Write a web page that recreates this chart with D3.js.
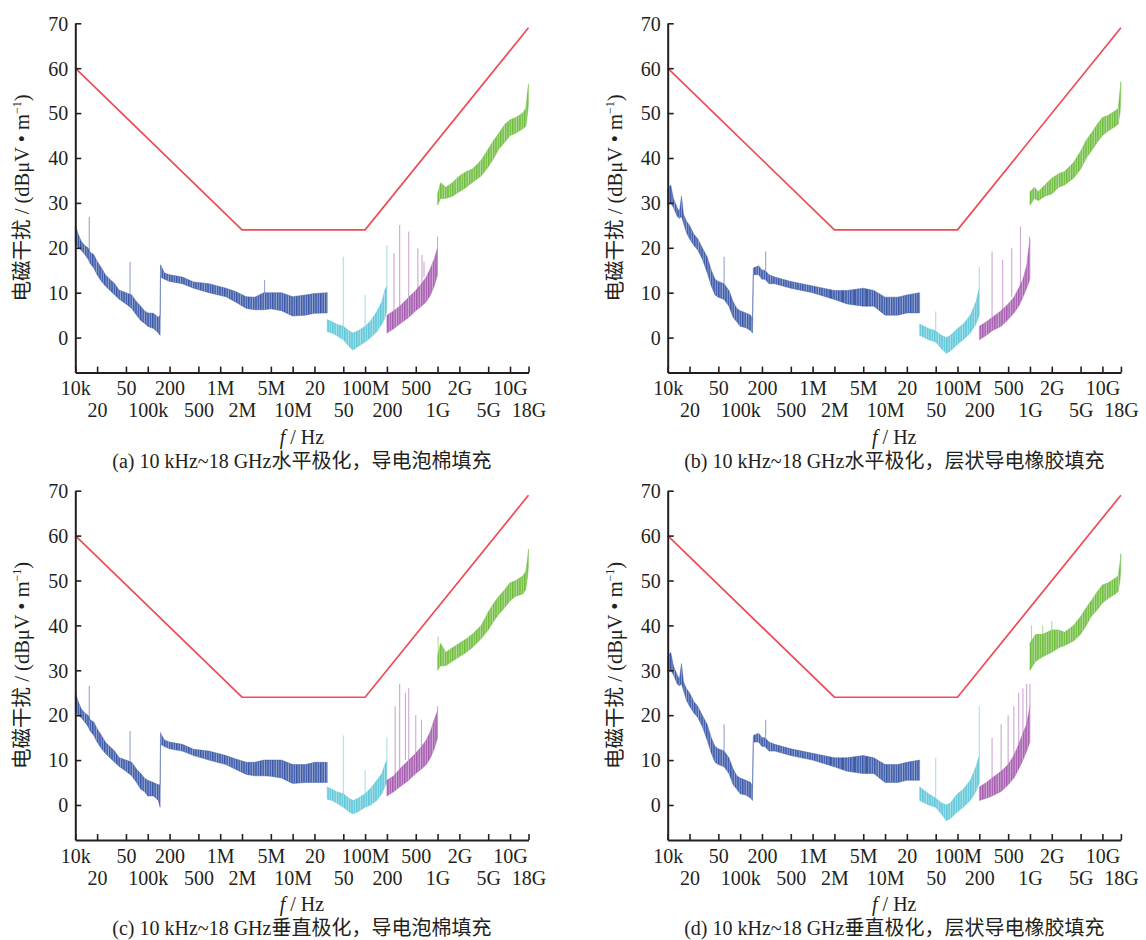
<!DOCTYPE html>
<html>
<head>
<meta charset="utf-8">
<script src="https://cdn.jsdelivr.net/npm/d3@7"></script>
<style>
  body { margin: 0; background: #fff; }
  svg { display: block; }
  text { font-family: "Liberation Serif", "Times New Roman", "Noto Sans CJK SC", serif; fill: #231f20; }
</style>
</head>
<body>
<svg id="chart" width="1146" height="940"></svg>
<script>
"use strict";

// x axis ticks (log frequency, Hz)
const tickFreqs = [1e4, 2e4, 5e4, 1e5, 2e5, 5e5, 1e6, 2e6, 5e6, 1e7, 2e7, 5e7, 1e8, 2e8, 5e8, 1e9, 2e9, 5e9, 1e10, 1.8e10];
const tickLabels = ["10k", "20", "50", "100k", "200", "500", "1M", "2M", "5M", "10M", "20", "50", "100M", "200", "500", "1G", "2G", "5G", "10G", "18G"];
const yTicks = [0, 10, 20, 30, 40, 50, 60, 70];

// limit line (dBuV/m)
const limitFreq = [1e4, 2e6, 1e8, 1.8e10];
const limitLevel = [60, 24, 24, 69];

const captions = [
    "(a) 10 kHz~18 GHz水平极化，导电泡棉填充",
    "(b) 10 kHz~18 GHz水平极化，层状导电橡胶填充",
    "(c) 10 kHz~18 GHz垂直极化，导电泡棉填充",
    "(d) 10 kHz~18 GHz垂直极化，层状导电橡胶填充"
];

// measured spectra: [freq, low, high] envelope readings per band
const aBlue = [
    [1.0e4, 21, 25], [1.1e4, 20, 23], [1.2e4, 19.5, 21.5], [1.35e4, 18.5, 20.5], [1.5e4, 17.5, 20],
    [1.6e4, 16.5, 19], [1.8e4, 15.5, 18.5], [2.0e4, 14, 17], [2.3e4, 12.5, 15.5], [2.6e4, 11.5, 14],
    [3.0e4, 10.5, 13], [3.5e4, 9.5, 12], [4.0e4, 8.6, 10.6], [5.0e4, 7.5, 10], [6.0e4, 6.5, 9.5],
    [7.0e4, 5, 8], [8.0e4, 3.8, 7], [9.0e4, 3.2, 6], [1.0e5, 2.5, 5.5], [1.2e5, 2, 5.4],
    [1.4e5, 1, 4.5], [1.48e5, 0.5, 5], [1.5e5, 13.5, 16.2], [1.7e5, 13, 14.4], [2.0e5, 12.5, 14],
    [3.0e5, 12, 13.5], [4.3e5, 11, 12.4], [7.0e5, 10, 12], [1.2e6, 9.1, 11], [1.6e6, 8, 10.3],
    [2.3e6, 6.5, 9.1], [3.0e6, 6.2, 9], [4.0e6, 6.2, 10], [5.0e6, 6.4, 10], [7.0e6, 6, 10],
    [1.0e7, 4.8, 9.1], [1.5e7, 5, 9.5], [2.0e7, 5.4, 9.8], [3.0e7, 5.5, 10]
];
const aCyan = [
    [3.0e7, 1.3, 4], [3.5e7, 1, 3.5], [4.0e7, 0.5, 3], [5.0e7, -0.5, 2.5], [6.0e7, -2, 1.5],
    [6.8e7, -2.8, 1], [8.0e7, -2, 1.5], [1.0e8, -1, 2.5], [1.2e8, 0, 3.8], [1.45e8, 1.3, 5.8],
    [1.7e8, 3, 8], [1.87e8, 4.3, 10.6], [2.0e8, 6, 11.5]
];
const aPurple = [
    [2.0e8, 1, 5], [2.5e8, 2, 6], [3.0e8, 3, 7], [4.0e8, 4.5, 9], [5.0e8, 6, 10.5],
    [6.0e8, 7, 12], [7.0e8, 8, 13.5], [8.0e8, 9.5, 15.5], [9.0e8, 11.5, 17.5], [1.0e9, 14, 20]
];
const aGreen = [
    [1.0e9, 29.5, 32], [1.1e9, 31, 34.5], [1.3e9, 31, 33.5], [1.6e9, 31.5, 34.5], [2.0e9, 32.5, 36],
    [2.5e9, 33.5, 37], [3.0e9, 34.5, 37.5], [4.0e9, 36, 39.5], [5.0e9, 38, 42], [6.0e9, 40, 44],
    [7.0e9, 42, 45.5], [8.5e9, 43.5, 47.5], [1.0e10, 45, 48.5], [1.2e10, 45.5, 49], [1.5e10, 46.5, 50],
    [1.65e10, 47, 51], [1.75e10, 50, 55], [1.8e10, 52, 56.5]
];
// spikes: [band, freq, peak]
const aSpikes = [
    ["blue", 1.56e4, 26.9], ["blue", 5.7e4, 16.9], ["blue", 1.5e5, 16.2], ["blue", 4.1e6, 12.8],
    ["cyan", 5.0e7, 18], ["cyan", 1.0e8, 9.5], ["cyan", 2.0e8, 20.6],
    ["purple", 2.5e8, 18.8], ["purple", 3.0e8, 25.1], ["purple", 4.0e8, 23.6], ["purple", 5.35e8, 19.9],
    ["purple", 6.1e8, 18.4], ["purple", 6.5e8, 16.9], ["purple", 1.0e9, 22.5]
];

const bBlue = [
    [1.0e4, 29.5, 33], [1.1e4, 30, 34], [1.2e4, 29, 31], [1.35e4, 27, 29], [1.45e4, 26.5, 28],
    [1.55e4, 27, 31.5], [1.65e4, 25.5, 27.5], [1.8e4, 23.5, 26], [2.0e4, 22, 25], [2.3e4, 20.5, 23],
    [2.6e4, 19.5, 22], [3.0e4, 17.5, 20], [3.5e4, 14.5, 18], [4.0e4, 11.5, 15], [4.5e4, 9.5, 13],
    [5.0e4, 9, 12.5], [6.0e4, 8.5, 12], [7.0e4, 7, 10.5], [8.0e4, 4.5, 8], [9.0e4, 3.5, 6.5],
    [1.0e5, 2.5, 6], [1.2e5, 2.2, 5.5], [1.4e5, 1.5, 5], [1.48e5, 1, 4], [1.52e5, 14, 15.5],
    [1.8e5, 14, 16], [2.0e5, 13, 15], [2.2e5, 13, 15], [2.5e5, 12, 14], [3.0e5, 12, 13.5],
    [5.0e5, 11, 12.5], [1.0e6, 10, 11.5], [2.0e6, 8.5, 10.5], [3.0e6, 7.5, 10.5], [5.0e6, 7, 11],
    [7.0e6, 7, 10.5], [1.0e7, 5, 9], [1.5e7, 5, 9], [2.0e7, 5.5, 9.5], [3.0e7, 5.5, 10]
];
const bCyan = [
    [3.0e7, 0.5, 3], [4.0e7, -0.5, 2], [5.0e7, -1, 1.5], [6.0e7, -2.5, 0.5], [7.0e7, -3.5, 0],
    [8.0e7, -3, 0.5], [1.0e8, -1.5, 2], [1.2e8, -0.5, 3], [1.5e8, 1, 5], [1.8e8, 3, 8], [2.0e8, 5, 11]
];
const bPurple = [
    [2.0e8, -0.5, 2.5], [2.5e8, 0.5, 3.5], [3.0e8, 1.5, 4.5], [4.0e8, 2.5, 6], [5.0e8, 4, 7.5],
    [6.0e8, 5.5, 9], [7.0e8, 7, 11], [8.0e8, 9, 13], [9.0e8, 11, 16], [1.0e9, 13, 22]
];
const bGreen = [
    [1.0e9, 29.5, 32.5], [1.15e9, 31, 33.5], [1.3e9, 30.5, 32.5], [1.6e9, 31.5, 34], [2.0e9, 32, 35.5],
    [2.5e9, 33.5, 36.5], [3.0e9, 34, 37], [4.0e9, 35.5, 39], [5.0e9, 37.5, 41.5], [6.0e9, 40, 44],
    [7.0e9, 41.5, 45.5], [8.5e9, 43.5, 47.5], [1.0e10, 45, 49], [1.2e10, 46, 49.5], [1.5e10, 47, 50.5],
    [1.65e10, 47.5, 51], [1.75e10, 50, 55], [1.8e10, 53, 57]
];
const bSpikes = [
    ["blue", 6.0e4, 18], ["blue", 2.25e5, 19.2],
    ["cyan", 5.0e7, 5.8], ["cyan", 2.0e8, 15.8],
    ["purple", 3.0e8, 19.2], ["purple", 4.2e8, 17.3], ["purple", 5.6e8, 19.9], ["purple", 7.4e8, 24.7],
    ["purple", 9.8e8, 22.5]
];

const cBlue = [
    [1.0e4, 21, 25], [1.1e4, 20, 23], [1.2e4, 19.5, 21.5], [1.35e4, 18.5, 20.5], [1.5e4, 17.5, 20],
    [1.6e4, 16.5, 19], [1.8e4, 15.5, 18.5], [2.0e4, 14, 17], [2.3e4, 12.5, 15.5], [2.6e4, 11.5, 14],
    [3.0e4, 10.5, 13], [3.5e4, 9.5, 12], [4.0e4, 8.6, 10.6], [5.0e4, 7.5, 10], [6.0e4, 6.5, 9.5],
    [7.0e4, 5, 8], [8.0e4, 3.5, 7], [9.0e4, 3, 6], [1.0e5, 2, 5.5], [1.2e5, 2, 5],
    [1.4e5, 1, 4.5], [1.48e5, -0.5, 4.5], [1.5e5, 13.5, 16], [1.7e5, 13, 14.5], [2.0e5, 12.5, 14],
    [3.0e5, 12, 13.5], [4.3e5, 11, 12.4], [7.0e5, 10, 12], [1.2e6, 9, 11], [1.6e6, 8, 10.3],
    [2.3e6, 6.8, 9.5], [3.0e6, 6.5, 9.5], [4.0e6, 6.5, 10], [5.0e6, 6.4, 10], [7.0e6, 6, 10],
    [1.0e7, 4.8, 9], [1.5e7, 5, 9], [2.0e7, 5, 9.5], [3.0e7, 5, 9.5]
];
const cCyan = [
    [3.0e7, 1.3, 4], [3.5e7, 1, 3.5], [4.0e7, 0.5, 3], [5.0e7, -0.5, 2.5], [6.0e7, -1.5, 1.5],
    [6.8e7, -2, 1], [8.0e7, -1.5, 1.5], [1.0e8, -0.5, 2.5], [1.2e8, 0, 3.8], [1.45e8, 1, 5.5],
    [1.7e8, 2.5, 7], [1.87e8, 4, 9], [2.0e8, 5, 10]
];
const cPurple = [
    [2.0e8, 2, 5.5], [2.5e8, 3, 6.5], [3.0e8, 4, 8], [4.0e8, 5.5, 10], [5.0e8, 7, 11.5],
    [6.0e8, 8, 13], [7.0e8, 9, 14.5], [8.0e8, 10.5, 16.5], [9.0e8, 12.5, 19], [1.0e9, 15, 21]
];
const cGreen = [
    [1.0e9, 30, 33], [1.1e9, 31, 36], [1.3e9, 31, 34], [1.6e9, 32, 35], [2.0e9, 33, 36],
    [2.5e9, 34, 37], [3.0e9, 35, 38], [4.0e9, 37, 40], [5.0e9, 39, 43], [6.0e9, 41, 45],
    [7.0e9, 42.5, 46.5], [8.5e9, 44, 48], [1.0e10, 45.5, 49.5], [1.2e10, 46.5, 50], [1.5e10, 47, 51],
    [1.65e10, 48, 52], [1.75e10, 51, 55], [1.8e10, 53, 57]
];
const cSpikes = [
    ["blue", 1.56e4, 26.5], ["blue", 5.7e4, 16.5], ["blue", 1.5e5, 16.2],
    ["cyan", 5.0e7, 15.5], ["cyan", 1.0e8, 7.8], ["cyan", 2.0e8, 15],
    ["purple", 2.6e8, 22], ["purple", 3.0e8, 27], ["purple", 3.6e8, 25], ["purple", 4.0e8, 26],
    ["purple", 5.0e8, 20], ["purple", 6.0e8, 19], ["purple", 1.0e9, 22], ["green", 1.02e9, 37.5]
];

const dBlue = [
    [1.0e4, 29.5, 33], [1.1e4, 30, 34], [1.2e4, 29, 31], [1.35e4, 27, 29], [1.45e4, 26.5, 28],
    [1.55e4, 27, 31.5], [1.65e4, 25.5, 27.5], [1.8e4, 23.5, 26], [2.0e4, 22, 25], [2.3e4, 20.5, 23],
    [2.6e4, 19.5, 22], [3.0e4, 17.5, 20], [3.5e4, 14.5, 18], [4.0e4, 11.5, 15], [4.5e4, 9.5, 13],
    [5.0e4, 9, 12.5], [6.0e4, 8.5, 12], [7.0e4, 7, 10.5], [8.0e4, 4.5, 8], [9.0e4, 3.5, 6.5],
    [1.0e5, 2.5, 6], [1.2e5, 2.2, 5.5], [1.4e5, 1.5, 5], [1.48e5, 1, 4], [1.52e5, 14, 15.5],
    [1.8e5, 14, 16], [2.0e5, 13, 15], [2.2e5, 13, 15], [2.5e5, 12, 14], [3.0e5, 12, 13.5],
    [5.0e5, 11, 12.5], [1.0e6, 10, 11.5], [2.0e6, 8.5, 10.5], [3.0e6, 7.5, 10.5], [5.0e6, 7, 11],
    [7.0e6, 7, 10.5], [1.0e7, 5, 9], [1.5e7, 5, 9], [2.0e7, 5.5, 9.5], [3.0e7, 5.5, 10]
];
const dCyan = [
    [3.0e7, 1, 4], [4.0e7, 0, 2.5], [5.0e7, -0.5, 1.5], [6.0e7, -2, 0.5], [7.0e7, -3.5, 0],
    [8.0e7, -3, 0.5], [1.0e8, -1.5, 2.5], [1.2e8, -0.5, 3.5], [1.5e8, 1, 5.5], [1.8e8, 3, 8.5], [2.0e8, 5, 11]
];
const dPurple = [
    [2.0e8, 1, 4], [2.5e8, 1.5, 5], [3.0e8, 2, 6], [4.0e8, 3, 7.5], [5.0e8, 4.5, 9],
    [6.0e8, 6, 11], [7.0e8, 8, 13.5], [8.0e8, 10, 16], [9.0e8, 12, 18], [1.0e9, 14, 22]
];
const dGreen = [
    [1.0e9, 30, 36], [1.2e9, 32, 38], [1.5e9, 33, 38], [2.0e9, 34, 39], [2.5e9, 35, 39],
    [3.0e9, 35.5, 38.5], [4.0e9, 36.5, 40], [5.0e9, 38, 42], [6.0e9, 40, 44], [7.0e9, 42, 45.5],
    [8.5e9, 43.5, 47.5], [1.0e10, 45, 49], [1.2e10, 46, 49.5], [1.5e10, 47, 50.5], [1.65e10, 47.5, 51],
    [1.75e10, 50, 54], [1.8e10, 52, 56]
];
const dSpikes = [
    ["blue", 6.0e4, 18], ["blue", 2.25e5, 19],
    ["cyan", 5.0e7, 10.5], ["cyan", 2.0e8, 22],
    ["purple", 3.0e8, 15], ["purple", 4.0e8, 18], ["purple", 5.0e8, 20], ["purple", 6.0e8, 22],
    ["purple", 7.0e8, 25], ["purple", 8.0e8, 26], ["purple", 9.0e8, 27], ["purple", 1.0e9, 27],
    ["green", 1.05e9, 40], ["green", 1.5e9, 40], ["green", 2.0e9, 41]
];

const bandColor = { blue: "#3b59a8", cyan: "#5fc7d8", purple: "#a65cae", green: "#6fbd3f" };

const panels = [
    { x: 75.3, y: 23.3, bands: { blue: aBlue, cyan: aCyan, purple: aPurple, green: aGreen }, spikes: aSpikes, cap: captions[0] },
    { x: 667.7, y: 23.3, bands: { blue: bBlue, cyan: bCyan, purple: bPurple, green: bGreen }, spikes: bSpikes, cap: captions[1] },
    { x: 75.3, y: 490.7, bands: { blue: cBlue, cyan: cCyan, purple: cPurple, green: cGreen }, spikes: cSpikes, cap: captions[2] },
    { x: 667.7, y: 490.7, bands: { blue: dBlue, cyan: dCyan, purple: dPurple, green: dGreen }, spikes: dSpikes, cap: captions[3] }
];

const width = 453.2, height = 349.3;
const x = d3.scaleLog().domain([1e4, 1.8e10]).range([0, width]);
const y = d3.scaleLinear().domain([-7.8, 70]).range([height, 0]);

const svg = d3.select("#chart");

// hatch pattern per band colour, like the dense sweep lines of the receiver plot
const defs = svg.append("defs");
Object.keys(bandColor).forEach(k => {
    const pat = defs.append("pattern")
        .attr("id", "hatch-" + k)
        .attr("patternUnits", "userSpaceOnUse")
        .attr("width", 2.4)
        .attr("height", 8);
    pat.append("rect").attr("width", 2.4).attr("height", 8)
        .attr("fill", bandColor[k]).attr("fill-opacity", 0.55);
    pat.append("rect").attr("width", 1.4).attr("height", 8)
        .attr("fill", bandColor[k]);
});

panels.forEach(p => {
    const g = svg.append("g").attr("transform", `translate(${p.x},${p.y})`);

    // bands
    Object.keys(p.bands).forEach(k => {
        const rows = p.bands[k];
        g.append("path")
            .datum(rows)
            .attr("fill", `url(#hatch-${k})`)
            .attr("stroke", bandColor[k])
            .attr("stroke-width", 1)
            .attr("stroke-opacity", 0.45)
            .attr("d", d3.area()
                .x(d => x(d[0]))
                .y0(d => y(d[1]))
                .y1(d => y(d[2])));
    });

    // spikes from band top up to peak
    g.selectAll("line.spike").data(p.spikes)
        .enter()
        .append("line")
        .attr("class", "spike")
        .attr("x1", d => x(d[1]))
        .attr("x2", d => x(d[1]))
        .attr("y1", d => {
            const rows = p.bands[d[0]];
            const near = rows.reduce((a, b) => Math.abs(Math.log(b[0] / d[1])) < Math.abs(Math.log(a[0] / d[1])) ? b : a);
            return y(near[2]);
        })
        .attr("y2", d => y(d[2]))
        .attr("stroke", d => bandColor[d[0]])
        .attr("stroke-width", 1.1)
        .attr("stroke-opacity", 0.55);

    // limit line
    g.append("path")
        .datum(d3.zip(limitFreq, limitLevel))
        .attr("fill", "none")
        .attr("stroke", "#ef4b56")
        .attr("stroke-width", 1.7)
        .attr("d", d3.line().x(d => x(d[0])).y(d => y(d[1])));

    // axes
    const yAxis = g.append("g")
        .call(d3.axisLeft(y).tickValues(yTicks).tickSizeInner(-6).tickSizeOuter(0).tickPadding(7));
    const xAxis = g.append("g")
        .attr("transform", `translate(0,${height})`)
        .call(d3.axisBottom(x).tickValues(tickFreqs).tickSizeInner(-6).tickSizeOuter(0)
            .tickFormat((d, i) => tickLabels[i]));

    [yAxis, xAxis].forEach(a => {
        a.select(".domain").attr("stroke", "#231f20").attr("stroke-width", 2);
        a.selectAll(".tick line").attr("stroke", "#231f20").attr("stroke-width", 1.6);
        a.selectAll(".tick text").attr("font-size", 20).attr("fill", "#231f20")
            .style("font-family", "'Liberation Serif', serif");
    });
    yAxis.selectAll(".tick text").attr("dy", "0.34em");
    xAxis.selectAll(".tick text")
        .attr("dy", null)
        .attr("y", (d, i) => i % 2 == 0 ? 22.8 : 44.8);

    // axis titles
    const xt = g.append("text")
        .attr("x", width / 2)
        .attr("y", height + 71)
        .attr("text-anchor", "middle")
        .attr("font-size", 20);
    xt.append("tspan").attr("font-style", "italic").text("f");
    xt.append("tspan").text(" / Hz");

    const yt = g.append("text")
        .attr("transform", `translate(${-46},${height / 2}) rotate(-90)`)
        .attr("text-anchor", "middle")
        .attr("font-size", 20.5);
    yt.append("tspan").text("电磁干扰 / (dBμV • m");
    yt.append("tspan").attr("dy", -8).attr("font-size", 12).text("−1");
    yt.append("tspan").attr("dy", 8).text(")");

    g.append("text")
        .attr("x", width / 2)
        .attr("y", height + 95)
        .attr("text-anchor", "middle")
        .attr("font-size", 20)
        .text(p.cap);
});
</script>
</body>
</html>
